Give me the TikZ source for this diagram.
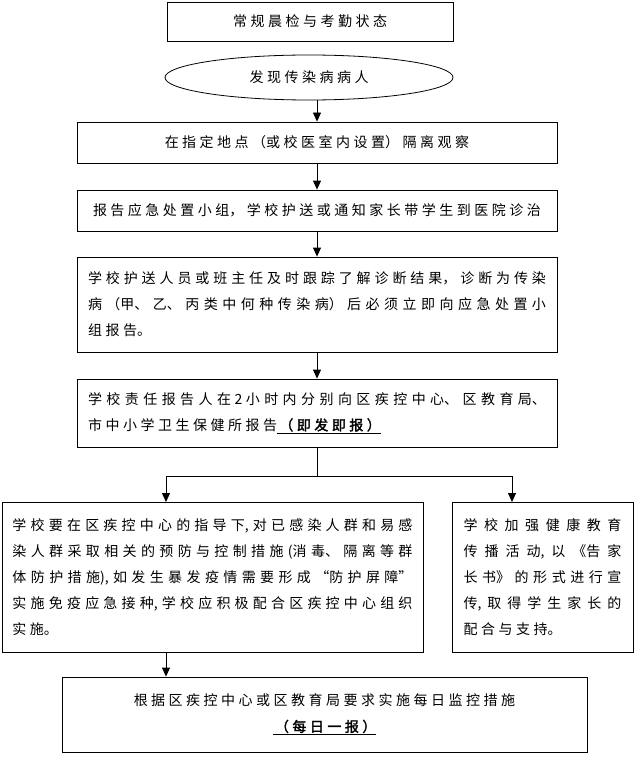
\documentclass[tikz,border=0pt]{standalone}
\usepackage{fontspec}
\setmainfont{Noto Sans CJK SC}[AutoFakeBold=2]
\newfontfamily\spacedcjk{Noto Sans CJK SC}[LetterSpace=25, AutoFakeBold=2]
\usetikzlibrary{arrows.meta,shapes.geometric}
\XeTeXlinebreaklocale "zh"
\XeTeXlinebreakskip=3.5pt plus 4pt minus 0.5pt
\newcommand{\ulbold}[1]{\underline{\,{\spacedcjk\bfseries #1}}}
\tikzset{
  box/.style={draw, line width=0.8pt, rectangle, inner sep=0pt,
    font=\fontsize{14pt}{26pt}\selectfont},
  oval/.style={draw, line width=0.8pt, ellipse, inner sep=0pt,
    font=\fontsize{14pt}{26pt}\selectfont},
  arr/.style={draw, line width=0.8pt, -{Triangle[length=9pt,width=8pt]}},
  conn/.style={draw, line width=0.8pt},
}
\begin{document}
\begin{tikzpicture}[x=1pt,y=-1pt]
\useasboundingbox (0,0) rectangle (634,778);
\node[box, minimum width=286pt, minimum height=39pt, text width=270pt, align=flush center] (b1) at (310,21.5) {常规晨检与考勤状态};
\node[oval, minimum width=288pt, minimum height=45pt, text width=150pt, align=flush center] (el) at (309,77.5) {发现传染病病人};
\node[box, minimum width=480pt, minimum height=41pt, text width=470pt, align=flush center] (b3) at (317,142.5) {在指定地点（或校医室内设置）隔离观察};
\node[box, minimum width=480pt, minimum height=41pt, text width=470pt, align=flush center] (b4) at (317,210.5) {报告应急处置小组，学校护送或通知家长带学生到医院诊治};
\node[box, minimum width=480pt, minimum height=95pt, text width=458pt, align=justify] (b5) at (317,304.5)
  {学校护送人员或班主任及时跟踪了解诊断结果，诊断为传染\linebreak 病（甲、乙、丙类中何种传染病）后必须立即向应急处置小\linebreak 组报告。};
\node[box, minimum width=480pt, minimum height=68pt, text width=458pt, align=justify] (b6) at (317,413)
  {学校责任报告人在 2 小时内分别向区疾控中心、区教育局、\linebreak 市中小学卫生保健所报告\ulbold{（即发即报）}};
\node[box, minimum width=421pt, minimum height=150pt, text width=400pt, align=justify] (bl) at (212.5,577)
  {学校要在区疾控中心的指导下,对已感染人群和易感\linebreak 染人群采取相关的预防与控制措施(消毒、隔离等群\linebreak 体防护措施),如发生暴发疫情需要形成“防护屏障”\linebreak 实施免疫应急接种,学校应积极配合区疾控中心组织\linebreak 实施。};
\node[box, minimum width=181pt, minimum height=150pt, text width=158pt, align=justify] (br) at (542.5,577)
  {学校加强健康教育\linebreak 传播活动,以《告家\linebreak 长书》的形式进行宣\linebreak 传,取得学生家长的\linebreak 配合与支持。};
\node[box, minimum width=525pt, minimum height=75pt, text width=500pt, align=flush center] (bb) at (324.5,714.5)
  {根据区疾控中心或区教育局要求实施每日监控措施\\\ulbold{（每日一报）}};
\coordinate (sj) at (317,476);
\coordinate (la) at (166,502);
\coordinate (ra) at (512,502);
\draw[arr] (b3.north |- el.south) -- (b3.north);
\draw[arr] (b3.south) -- (b4.north);
\draw[arr] (b4.south) -- (b5.north);
\draw[arr] (b5.south) -- (b6.north);
\draw[conn] (b6.south) -- (sj);
\draw[arr] (sj) -| (la);
\draw[arr] (sj) -| (ra);
\draw[arr] (bl.south -| la) -- (bb.north -| la);
\end{tikzpicture}
\end{document}
